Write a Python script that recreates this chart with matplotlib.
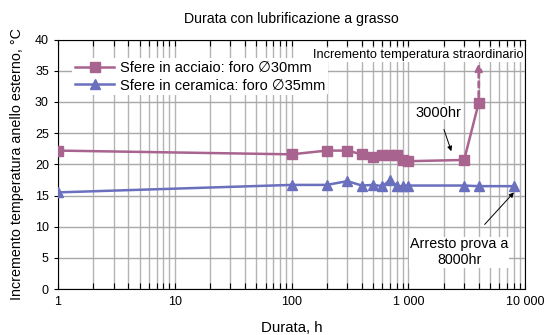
import matplotlib
matplotlib.use("Agg")
import matplotlib.pyplot as plt
from matplotlib.ticker import FixedLocator, LogLocator, NullFormatter

plt.rcParams['font.family'] = ['Liberation Sans', 'DejaVu Sans']

title = "Durata con lubrificazione a grasso"
xlabel = "Durata, h"
ylabel = "Incremento temperatura anello esterno, °C"

steel_label = "Sfere in acciaio: foro \u220530mm"
ceramic_label = "Sfere in ceramica: foro \u220535mm"

steel_x = [1, 100, 200, 300, 400, 500, 600, 700, 800, 900, 1000, 3000, 4000]
steel_y = [22.2, 21.6, 22.2, 22.2, 21.6, 21.1, 21.5, 21.5, 21.5, 20.7, 20.5, 20.7, 29.9]
steel_jump_y = [29.9, 36.2]

ceramic_x = [1, 100, 200, 300, 400, 500, 600, 700, 800, 900, 1000, 3000, 4000, 8000]
ceramic_y = [15.5, 16.7, 16.7, 17.3, 16.6, 16.7, 16.5, 17.5, 16.5, 16.5, 16.6, 16.6, 16.5, 16.5]

xticks = [1, 10, 100, 1000, 10000]
xticklabels = ["1", "10", "100", "1 000", "10 000"]
yticks = [0, 5, 10, 15, 20, 25, 30, 35, 40]

steel_color = "#A8638F"
ceramic_color = "#6A70BD"

fig = plt.figure(figsize=(5.46, 3.35), dpi=100)
ax = fig.add_axes([0.106, 0.137, 0.856, 0.745])

ax.set_xscale('log')
ax.set_xlim(1, 10000)
ax.set_ylim(0, 40)

ax.xaxis.set_major_locator(FixedLocator(xticks))
ax.set_xticklabels(xticklabels)
ax.xaxis.set_minor_locator(LogLocator(base=10, subs=range(2, 10), numticks=20))
ax.xaxis.set_minor_formatter(NullFormatter())
ax.set_yticks(yticks)

ax.grid(True, which='both', axis='x', color='#b4b4b4', linewidth=1.0)
ax.grid(True, which='major', axis='y', color='#a8a8a8', linewidth=1.0)
ax.set_axisbelow(True)

ax.tick_params(axis='x', which='both', direction='in', top=True, bottom=True,
               length=4, width=0.8, labelsize=9, pad=5)
ax.tick_params(axis='y', which='major', direction='out', left=True, right=False,
               length=3, width=0.8, labelsize=9)
for s in ax.spines.values():
    s.set_linewidth(0.8)

ax.plot(steel_x, steel_y, color=steel_color, marker='s', markersize=6.5,
        linewidth=1.8, label=steel_label, zorder=3)
ax.plot(ceramic_x, ceramic_y, color=ceramic_color, marker='^', markersize=6.5,
        linewidth=1.8, label=ceramic_label, zorder=3)

# dashed arrow for extraordinary increase
ax.annotate("", xy=(steel_x[-1], steel_jump_y[1]), xytext=(steel_x[-1], steel_jump_y[0] + 0.9),
            arrowprops=dict(arrowstyle='-|>', color=steel_color, linestyle=(0, (2, 1.5)),
                            linewidth=2.0, mutation_scale=10, shrinkA=0, shrinkB=0), zorder=3)

bb = dict(facecolor='white', edgecolor='none', pad=0.5)
ax.text(0.997, 0.9375, "Incremento temperatura straordinario", transform=ax.transAxes,
        ha='right', va='center', fontsize=9.2, bbox=bb, zorder=4)

ax.annotate("3000hr", xy=(2330, 22.1), xytext=(1800, 28.3), ha='center', va='center',
            fontsize=10.5, bbox=bb,
            arrowprops=dict(arrowstyle='-|>', color='black', linewidth=0.7,
                            mutation_scale=7, shrinkA=7, shrinkB=0), zorder=4)

ax.annotate("Arresto prova a\n8000hr", xy=(8000, 15.5), xytext=(2720, 5.9), ha='center', va='center',
            fontsize=10.3, bbox=bb, linespacing=1.15,
            arrowprops=dict(arrowstyle='-|>', color='black', linewidth=0.7,
                            mutation_scale=7, shrinkA=12, shrinkB=0), zorder=4)

leg = ax.legend(loc='upper left', bbox_to_anchor=(0.03, 0.926), frameon=True, fontsize=10.5,
                handlelength=2.7, handletextpad=0.4, labelspacing=0.25, borderpad=0.2,
                borderaxespad=0.0)
leg.get_frame().set_facecolor('white')
leg.get_frame().set_edgecolor('none')
leg.get_frame().set_alpha(1)
leg.set_zorder(5)

ax.set_title(title, fontsize=10.2, pad=12)
ax.set_xlabel(xlabel, fontsize=10.8, labelpad=9)
ax.set_ylabel(ylabel, fontsize=10.3, labelpad=8)

fig.savefig("out.png", dpi=100)
